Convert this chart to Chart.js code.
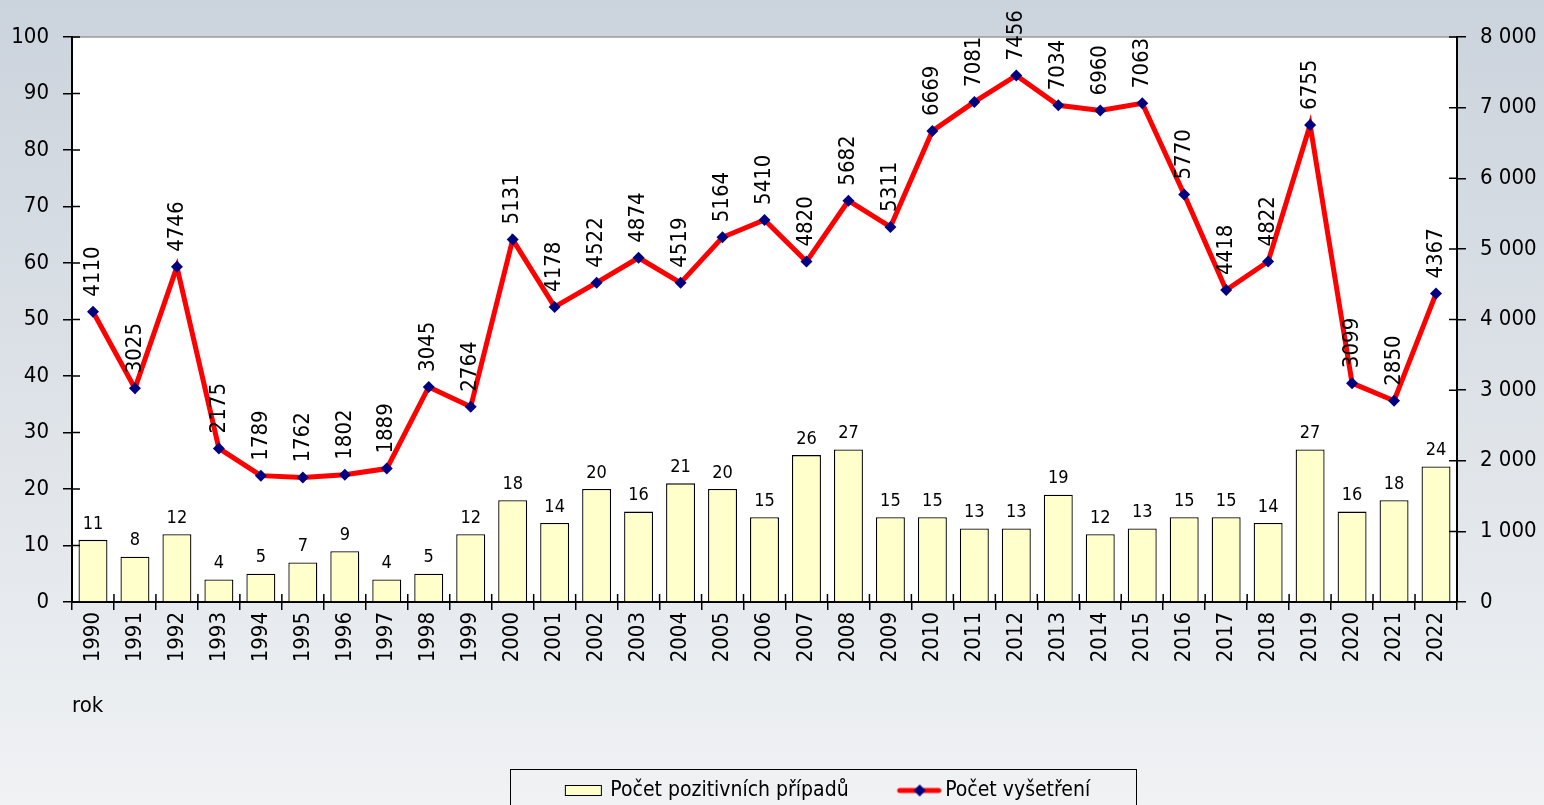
<!DOCTYPE html>
<html lang="cs">
<head>
<meta charset="UTF-8">
<title>Počet vyšetření a pozitivních případů</title>
<script src="https://cdn.jsdelivr.net/npm/chart.js"></script>
<style>
  html, body { margin: 0; padding: 0; background: #fff; }
  #chart { display: block; }
</style>
</head>
<body>
<canvas id="chart" width="1544" height="805"></canvas>
<script>
const years = ["1990","1991","1992","1993","1994","1995","1996","1997","1998","1999",
  "2000","2001","2002","2003","2004","2005","2006","2007","2008","2009","2010",
  "2011","2012","2013","2014","2015","2016","2017","2018","2019","2020","2021","2022"];
const positiveCases = [11, 8, 12, 4, 5, 7, 9, 4, 5, 12, 18, 14, 20, 16, 21, 20, 15, 26, 27,
  15, 15, 13, 13, 19, 12, 13, 15, 15, 14, 27, 16, 18, 24];
const examinations = [4110, 3025, 4746, 2175, 1789, 1762, 1802, 1889, 3045, 2764, 5131,
  4178, 4522, 4874, 4519, 5164, 5410, 4820, 5682, 5311, 6669, 7081, 7456, 7034, 6960,
  7063, 5770, 4418, 4822, 6755, 3099, 2850, 4367];
const seriesNames = ["Počet pozitivních případů", "Počet vyšetření"];
const axisTitle = "rok";

const FONT = "'DejaVu Sans Condensed', 'DejaVu Sans', Tahoma, sans-serif";
const BOX_W = 76;          // legend box width given to Chart.js
const ICON_W = BOX_W + 14; // icon canvas; visible mark is its right 42px

function barIcon() {
    const c = document.createElement("canvas");
    c.width = ICON_W; c.height = 13;
    const g = c.getContext("2d");
    const x0 = ICON_W - 41.5;
    g.fillStyle = "#ffffcc";
    g.fillRect(x0, 1.5, 36, 10);
    g.strokeStyle = "#000";
    g.lineWidth = 1;
    g.strokeRect(x0, 1.5, 36, 10);
    return c;
}

function lineIcon() {
    const c = document.createElement("canvas");
    c.width = ICON_W; c.height = 14;
    const g = c.getContext("2d");
    g.strokeStyle = "#ff0000";
    g.lineWidth = 5;
    g.lineCap = "round";
    g.beginPath();
    g.moveTo(ICON_W - 42, 7);
    g.lineTo(ICON_W - 3, 7);
    g.stroke();
    const cx = ICON_W - 22;
    g.fillStyle = "#000080";
    g.beginPath();
    g.moveTo(cx, 1); g.lineTo(cx + 6, 7); g.lineTo(cx, 13); g.lineTo(cx - 6, 7);
    g.closePath();
    g.fill();
    return c;
}

const icons = [barIcon(), lineIcon()];

// background, white plot area, top border
const backdrop = {
    id: "backdrop",
    afterLayout(chart) {
        // legend sits a bit right of centre in the original
        chart.legend.left += 35;
        chart.legend.right += 35;
    },
    beforeDraw(chart) {
        const {ctx, width, height, chartArea: a} = chart;
        ctx.save();
        const grad = ctx.createLinearGradient(0, 0, 0, height);
        grad.addColorStop(0, "#cbd3dc");
        grad.addColorStop(1, "#f0f2f4");
        ctx.fillStyle = grad;
        ctx.fillRect(0, 0, width, height);
        ctx.fillStyle = "#fff";
        ctx.fillRect(a.left, a.top, a.right - a.left, a.bottom - a.top);
        ctx.strokeStyle = "#9a9a9a";
        ctx.lineWidth = 1.5;
        ctx.beginPath();
        ctx.moveTo(a.left, a.top);
        ctx.lineTo(a.right, a.top);
        ctx.stroke();
        ctx.restore();
    }
};

// value labels: horizontal above bars, rotated above line points
const valueLabels = {
    id: "valueLabels",
    afterDatasetsDraw(chart) {
        const ctx = chart.ctx;
        ctx.save();
        ctx.fillStyle = "#000";
        const bars = chart.getDatasetMeta(0).data;
        ctx.font = "18px " + FONT;
        ctx.textAlign = "center";
        ctx.textBaseline = "bottom";
        bars.forEach((el, i) => {
            ctx.fillText(String(positiveCases[i]), el.x, el.y - 7);
        });
        const pts = chart.getDatasetMeta(1).data;
        ctx.font = "22px " + FONT;
        ctx.textAlign = "left";
        ctx.textBaseline = "middle";
        pts.forEach((el, i) => {
            ctx.save();
            ctx.translate(el.x, el.y - 15);
            ctx.rotate(-Math.PI / 2);
            ctx.fillText(String(examinations[i]), 0, 0);
            ctx.restore();
        });
        ctx.restore();
    }
};

// inner halves of the tick marks and the legend frame
const extras = {
    id: "extras",
    afterDraw(chart) {
        const {ctx, chartArea: a, scales} = chart;
        ctx.save();
        ctx.strokeStyle = "#000";
        ctx.lineWidth = 1.5;
        ctx.beginPath();
        scales.y.ticks.forEach((t, i) => {
            const y = scales.y.getPixelForTick(i);
            ctx.moveTo(a.left, y); ctx.lineTo(a.left + 8, y);
        });
        scales.y1.ticks.forEach((t, i) => {
            const y = scales.y1.getPixelForTick(i);
            ctx.moveTo(a.right - 8, y); ctx.lineTo(a.right, y);
        });
        const n = years.length;
        for (let i = 0; i <= n; i++) {
            const x = a.left + i * (a.right - a.left) / n;
            ctx.moveTo(x, a.bottom - 8); ctx.lineTo(x, a.bottom);
        }
        ctx.stroke();

        const hb = chart.legend.legendHitBoxes;
        if (hb && hb.length === 2) {
            const left = hb[0].left + BOX_W - 35 - 55;
            const right = hb[1].left + hb[1].width + 46;
            const top = hb[0].top + 10.5 - 22;
            ctx.lineWidth = 1;
            ctx.strokeRect(Math.round(left) + 0.5, Math.round(top) + 0.5, Math.round(right - left), 60);
        }
        ctx.restore();
    }
};

function spaced(v) {
    return String(v).replace(/\B(?=(\d{3})+(?!\d))/g, " ");
}

new Chart(document.getElementById("chart").getContext("2d"), {
    type: "bar",
    data: {
        labels: years,
        datasets: [{
            label: seriesNames[0],
            data: positiveCases,
            yAxisID: "y",
            backgroundColor: "#ffffcc",
            borderColor: "#000",
            borderWidth: 1.3,
            barPercentage: 0.69,
            categoryPercentage: 1,
            order: 2
        }, {
            type: "line",
            label: seriesNames[1],
            data: examinations,
            yAxisID: "y1",
            borderColor: "#ff0000",
            borderWidth: 5,
            tension: 0,
            pointStyle: "rectRot",
            pointRadius: 6,
            pointBackgroundColor: "#000080",
            pointBorderColor: "#000080",
            pointBorderWidth: 0,
            order: 1
        }]
    },
    options: {
        responsive: false,
        animation: false,
        layout: { padding: { top: 37, left: 0, right: 0, bottom: -6 } },
        plugins: {
            tooltip: { enabled: false },
            legend: {
                position: "bottom",
                labels: {
                    color: "#000",
                    font: { family: FONT, size: 21 },
                    padding: 10,
                    usePointStyle: true,
                    pointStyleWidth: BOX_W,
                    sort: (a, b) => a.datasetIndex - b.datasetIndex,
                    generateLabels(chart) {
                        const items = Chart.defaults.plugins.legend.labels.generateLabels(chart);
                        items.forEach(it => { it.pointStyle = icons[it.datasetIndex]; });
                        return items;
                    }
                }
            }
        },
        scales: {
            x: {
                type: "category",
                afterFit: s => { s.height = 168; },
                grid: { offset: true, drawOnChartArea: false, color: "#000", lineWidth: 1.5, tickLength: 8 },
                border: { color: "#000", width: 2 },
                ticks: {
                    color: "#000",
                    font: { family: FONT, size: 22 },
                    autoSkip: false,
                    maxRotation: 90,
                    minRotation: 90,
                    padding: 2
                },
                title: {
                    display: true,
                    text: axisTitle,
                    align: "start",
                    color: "#000",
                    font: { family: FONT, size: 22 },
                    padding: { top: 0, bottom: 51 }
                }
            },
            y: {
                position: "left",
                min: 0,
                max: 100,
                afterFit: s => { s.width = 72; },
                grid: { drawOnChartArea: false, color: "#000", lineWidth: 1.5, tickLength: 9 },
                border: { color: "#000", width: 2 },
                ticks: {
                    stepSize: 10,
                    color: "#000",
                    font: { family: FONT, size: 22 },
                    padding: 14
                }
            },
            y1: {
                position: "right",
                min: 0,
                max: 8000,
                afterFit: s => { s.width = 87; },
                grid: { drawOnChartArea: false, color: "#000", lineWidth: 1.5, tickLength: 9 },
                border: { color: "#000", width: 2 },
                ticks: {
                    stepSize: 1000,
                    color: "#000",
                    font: { family: FONT, size: 22 },
                    padding: 14,
                    callback: v => spaced(v)
                }
            }
        }
    },
    plugins: [backdrop, valueLabels, extras]
});
</script>
</body>
</html>
